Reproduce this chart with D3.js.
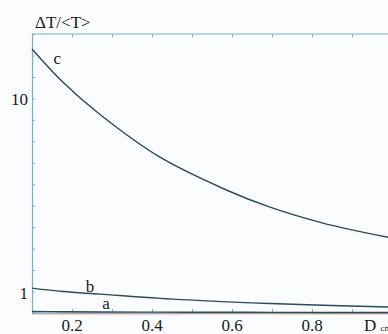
<!DOCTYPE html>
<html>
<head>
<meta charset="utf-8">
<script src="https://cdn.jsdelivr.net/npm/d3@7"></script>
<style>
  body { margin: 0; background: #fbfcfe; }
  svg { display: block; }
  svg text { font-family: "Liberation Serif", serif; }
</style>
</head>
<body>
<svg id="chart" width="388" height="334"></svg>
<script>
const dValues = [0.1, 0.1775, 0.27, 0.42, 0.5875, 0.695, 0.8275, 0.99]
const cValues = [12.3, 10.75, 9.25, 7.26, 5.72, 4.93, 4.19, 3.53]
const bValues = [1.16, 1.0, 0.88, 0.68, 0.52, 0.44, 0.36, 0.28]
const aValues = [0.07, 0.06, 0.05, 0.04, 0.035, 0.03, 0.025, 0.02]
const xTicks = [0.1, 0.2, 0.3, 0.4, 0.5, 0.6, 0.7, 0.8, 0.9]
const xTickLabels = [0.2, 0.4, 0.6, 0.8]
const yTicks = d3.range(0, 14)
const yTickLabels = [1, 10]

const c = {
  width: 388,
  height: 334,
  margin: { left: 32, top: 34, bottom: 313 },
  axisColor: '#74b0d0',
  lineColor: '#2a4b58'
}

const svg = d3.select('#chart')

const xScale = d3.scaleLinear([0.1, 0.99], [c.margin.left, c.width])
const yScale = d3.scaleLinear([0, 13], [c.margin.bottom, c.margin.top])

const series = [
  { key: 'c', values: cValues, label: [0.163, 11.6] },
  { key: 'b', values: bValues, label: [0.245, 1.0] },
  { key: 'a', values: aValues, label: [0.285, 0.2] }
]

const line = d3.line()
  .x((d) => xScale(d[0]))
  .y((d) => yScale(d[1]))
  .curve(d3.curveCatmullRom)

// frame
svg.append('line')
  .attr('x1', c.margin.left).attr('x2', c.width)
  .attr('y1', c.margin.top).attr('y2', c.margin.top)
  .attr('stroke', c.axisColor).attr('stroke-width', 1.2)

svg.append('line')
  .attr('x1', c.margin.left).attr('x2', c.width)
  .attr('y1', c.margin.bottom + 0.8).attr('y2', c.margin.bottom + 0.8)
  .attr('stroke', '#e07a5a').attr('stroke-width', 1)

// X axis (bottom + top, ticks inward)
svg.append('g')
  .attr('transform', `translate(0,${ c.margin.bottom })`)
  .call(d3.axisTop(xScale).tickValues(xTicks).tickSize(4).tickFormat(''))
  .call((g) => g.select('.domain').remove())
  .selectAll('line').attr('stroke', c.axisColor)

svg.append('line')
  .attr('x1', c.margin.left).attr('x2', c.width)
  .attr('y1', c.margin.bottom).attr('y2', c.margin.bottom)
  .attr('stroke', c.axisColor).attr('stroke-width', 1.2)

svg.append('g')
  .attr('transform', `translate(0,${ c.margin.top })`)
  .call(d3.axisBottom(xScale).tickValues(xTicks).tickSize(3).tickFormat(''))
  .call((g) => g.select('.domain').remove())
  .selectAll('line').attr('stroke', c.axisColor)

svg.append('g')
  .selectAll('text')
  .data(xTickLabels)
  .join('text')
  .attr('x', (d) => xScale(d))
  .attr('y', 331)
  .attr('text-anchor', 'middle')
  .attr('font-size', 17)
  .attr('fill', '#1a1a1a')
  .text((d) => d3.format('.1f')(d))

const dLabel = svg.append('text')
  .attr('x', 364)
  .attr('y', 331)
  .attr('font-size', 17)
  .attr('fill', '#1a1a1a')
dLabel.append('tspan').text('D ')
dLabel.append('tspan').attr('font-size', 9).text('cm')

// Y axis
const yAxisEl = svg.append('g')
  .attr('transform', `translate(${ c.margin.left },0)`)
  .call(d3.axisRight(yScale).tickValues(yTicks).tickSize(3).tickFormat(''))
yAxisEl.select('.domain').attr('stroke', c.axisColor).attr('stroke-width', 1.2)
yAxisEl.selectAll('line').attr('stroke', c.axisColor)

svg.append('g')
  .selectAll('text')
  .data(yTickLabels)
  .join('text')
  .attr('x', 28)
  .attr('y', (d) => yScale(d) + 7)
  .attr('text-anchor', 'end')
  .attr('font-size', 17)
  .attr('fill', '#1a1a1a')
  .text((d) => d)

svg.append('text')
  .attr('x', 35)
  .attr('y', 28)
  .attr('font-size', 17)
  .attr('fill', '#1a1a1a')
  .text('ΔT/<T>')

// curves
svg.append('g')
  .selectAll('path')
  .data(series)
  .join('path')
  .attr('d', (s) => line(s.values.map((v, i) => [dValues[i], v])))
  .attr('fill', 'none')
  .attr('stroke', c.lineColor)
  .attr('stroke-width', 1.4)

svg.append('g')
  .selectAll('text')
  .data(series)
  .join('text')
  .attr('x', (s) => xScale(s.label[0]))
  .attr('y', (s) => yScale(s.label[1]))
  .attr('font-size', 17)
  .attr('fill', '#1a1a1a')
  .attr('text-anchor', 'middle')
  .text((s) => s.key)
</script>
</body>
</html>
